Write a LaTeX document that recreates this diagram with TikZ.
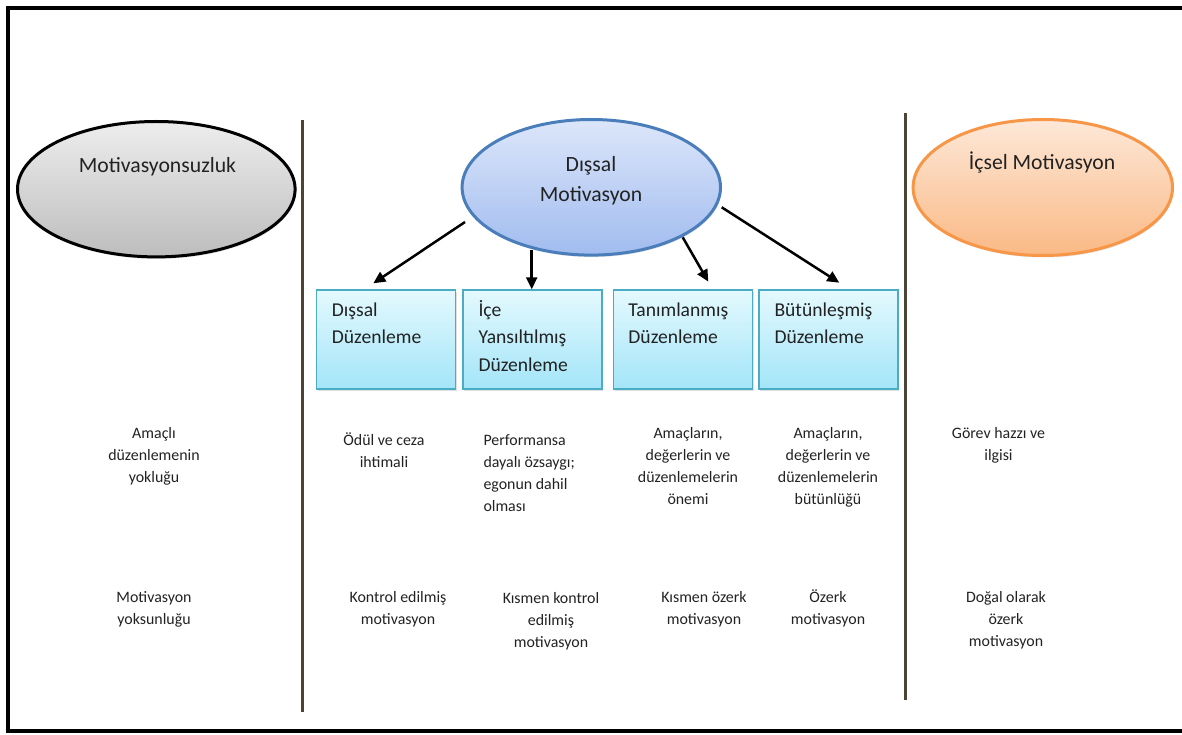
\documentclass[tikz,border=0pt]{standalone}
\usepackage{fontspec}
\setmainfont{Carlito}
\usetikzlibrary{shapes.geometric,arrows.meta,shadows,calc}
\definecolor{txt}{HTML}{222222}
\definecolor{grtop}{HTML}{EDEDED}
\definecolor{grbot}{HTML}{BDBDBD}
\definecolor{bltop}{HTML}{DCE6FA}
\definecolor{blbot}{HTML}{A1BCEF}
\definecolor{blborder}{HTML}{4A7EBB}
\definecolor{ortop}{HTML}{FDE8D8}
\definecolor{orbot}{HTML}{FAB985}
\definecolor{orborder}{HTML}{F79646}
\definecolor{boxtop}{HTML}{E4F9FE}
\definecolor{boxbot}{HTML}{A3E5F8}
\definecolor{boxborder}{HTML}{4BACC6}
\definecolor{vcol}{HTML}{4C4535}
\begin{document}
\begin{tikzpicture}[x=1pt,y=-1pt,
  ell/.style={ellipse, line width=3pt, inner sep=0pt,
    drop shadow={opacity=0.2,shadow xshift=1pt,shadow yshift=-2pt}},
  regbox/.style={rectangle, draw=boxborder, line width=1.2pt, top color=boxtop,
    bottom color=boxbot, minimum width=139pt, minimum height=99pt, anchor=north west,
    inner sep=0pt, drop shadow={opacity=0.25,shadow xshift=1.5pt,shadow yshift=-2pt}},
  regtxt/.style={anchor=base west, align=left, font=\fontsize{19.6}{27.6}\selectfont,
    inner sep=0pt, text=txt},
  lbl/.style={anchor=base, align=center, font=\fontsize{15.9}{22}\selectfont,
    inner sep=0pt, text=txt},
  lbll/.style={lbl, align=left, anchor=base west},
  head/.style={font=\fontsize{21.7}{30}\selectfont, inner sep=0pt, anchor=base,
    align=center, text=txt},
  arr/.style={line width=2.5pt, -{Triangle[length=12pt,width=11pt]}},
  vline/.style={line width=3pt, draw=vcol}]
% note: the base anchor of a multi-line node is the baseline of its last line
\useasboundingbox (0,0) rectangle (1182,735);
\clip (0,0) rectangle (1182,735);
\fill[white] (0,0) rectangle (1182,735);
% frame
\draw[line width=4.5pt, black] (1200,8) -- (8,8) -- (8,731) -- (1200,731);

% ellipses
\node[ell, draw=black, top color=grtop, bottom color=grbot,
  minimum width=277.6pt, minimum height=135.4pt] (am) at (156.3,189.2) {};
\node[ell, draw=blborder, top color=bltop, bottom color=blbot,
  minimum width=258.4pt, minimum height=135.6pt] (dm) at (591.3,187.3) {};
\node[ell, draw=orborder, top color=ortop, bottom color=orbot,
  minimum width=259.4pt, minimum height=136pt] (im) at (1042.8,187.5) {};

\node[head] (amt) at (157.5,172.7) {Motivasyonsuzluk};
\node[head] (dmt) at (591,201.7) {Dışsal\\Motivasyon};
\node[head] (imt) at (1042,170) {İçsel Motivasyon};

% vertical separators
\coordinate (v1t) at (302,120);
\coordinate (v1b) at (302,712);
\coordinate (v2t) at (905,113);
\coordinate (v2b) at (905,700);
\draw[vline] (v1t) -- (v1b);
\draw[vline] (v2t) -- (v2b);

% regulation boxes
\node[regbox] (b1) at (315.5,289.3) {};
\node[regbox] (b2) at (462.3,289.3) {};
\node[regbox] (b3) at (612.7,289.3) {};
\node[regbox] (b4) at (758.3,289.3) {};

\node[regtxt] (b1t) at ($(b1.north west)+(16.2,54.3)$) {Dışsal\\Düzenleme};
\node[regtxt] (b2t) at ($(b2.north west)+(16,81.9)$) {İçe\\Yansıltılmış\\Düzenleme};
\node[regtxt] (b3t) at ($(b3.north west)+(15.5,54.3)$) {Tanımlanmış\\Düzenleme};
\node[regtxt] (b4t) at ($(b4.north west)+(16,54.3)$) {Bütünleşmiş\\Düzenleme};

% arrows
\coordinate (a1s) at ($(dm.center)+(-126.3,34.7)$);
\coordinate (a1e) at ($(b1.north west)+(57.8,-6)$);
\coordinate (a2s) at ($(dm.center)+(-59.6,62.7)$);
\coordinate (a2e) at ($(b2.north west)+(69.4,0)$);
\coordinate (a3s) at ($(dm.center)+(91.4,50)$);
\coordinate (a3e) at ($(b3.north west)+(95.6,-7.6)$);
\coordinate (a4s) at ($(dm.center)+(130.4,20)$);
\coordinate (a4e) at ($(b4.north west)+(81,-6.6)$);
\draw[arr] (a1s) -- (a1e);
\draw[arr] (a2s) -- (a2e);
\draw[arr] (a3s) -- (a3e);
\draw[arr] (a4s) -- (a4e);

% lower labels
\node[lbl] (c0a) at (154,482.3) {Amaçlı\\düzenlemenin\\yokluğu};
\node[lbl] (c0b) at (154,624.7) {Motivasyon\\yoksunluğu};
\node[lbl] (c1a) at (384,467) {Ödül ve ceza\\ihtimali};
\node[lbl] (c1b) at (398,624.7) {Kontrol edilmiş\\motivasyon};
\node[lbll] (c2a) at (483.3,511) {Performansa\\dayalı özsaygı;\\egonun dahil\\olması};
\node[lbl] (c2b) at (551,647) {Kısmen kontrol\\edilmiş\\motivasyon};
\node[lbl] (c3a) at (688,504.3) {Amaçların,\\değerlerin ve\\düzenlemelerin\\önemi};
\node[lbl] (c3b) at (704,624.7) {Kısmen özerk\\motivasyon};
\node[lbl] (c4a) at (828,504.3) {Amaçların,\\değerlerin ve\\düzenlemelerin\\bütünlüğü};
\node[lbl] (c4b) at (828,624.7) {Özerk\\motivasyon};
\node[lbl] (c5a) at (998.5,460.3) {Görev hazzı ve\\ilgisi};
\node[lbl] (c5b) at (1006,646.7) {Doğal olarak\\özerk\\motivasyon};
\end{tikzpicture}
\end{document}
